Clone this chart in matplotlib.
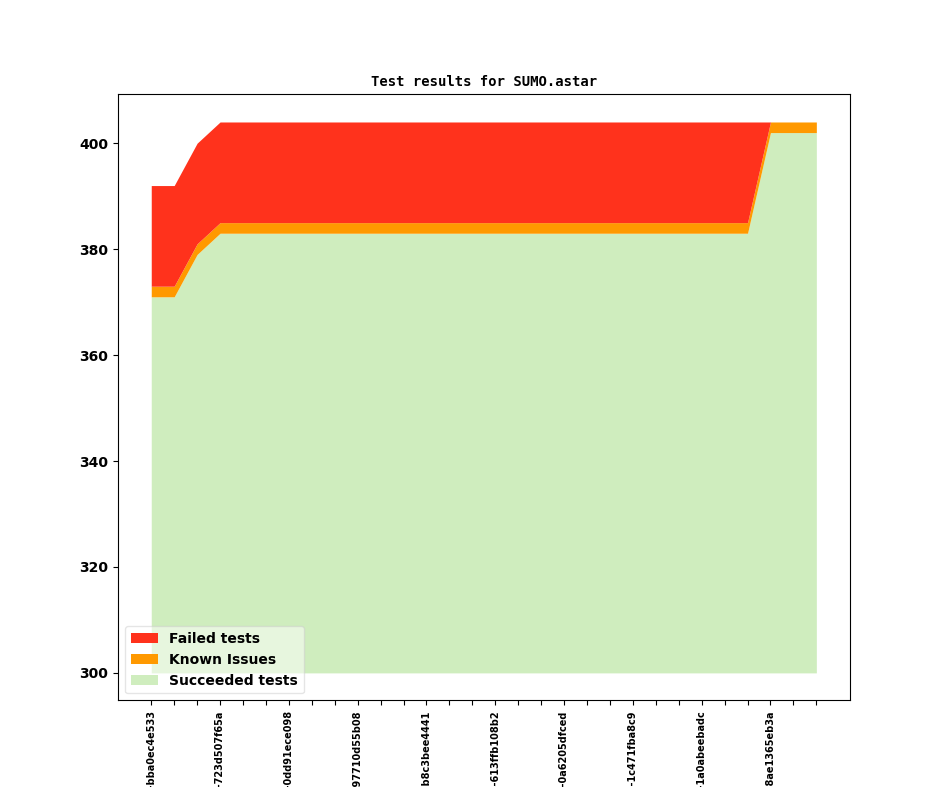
import matplotlib
matplotlib.use("Agg")
import matplotlib.pyplot as plt

# commit ids (only every third one gets a label)
labels = ["v1_3_1+0412-bba0ec4e533", "", "",
          "v1_3_1+0418-723d507f65a", "", "",
          "v1_3_1+0425-0dd91ece098", "", "",
          "v1_3_1+0431-97710d55b08", "", "",
          "v1_3_1+0437-b8c3bee4441", "", "",
          "v1_3_1+0444-613ffb108b2", "", "",
          "v1_3_1+0450-0a6205dfced", "", "",
          "v1_3_1+0457-1c471fba8c9", "", "",
          "v1_3_1+0463-1a0abeebadc", "", "",
          "v1_3_1+0470-8ae1365eb3a", "", ""]

succeeded = [371, 371, 379] + [383] * 24 + [402, 402, 402]
known = [2, 2, 2] + [2] * 24 + [2, 2, 2]
failed = [19, 19, 19] + [19] * 24 + [0, 0, 0]

base = 300

x = list(range(len(succeeded)))
known_top = [s + k for s, k in zip(succeeded, known)]
failed_top = [kt + f for kt, f in zip(known_top, failed)]

fig = plt.figure(figsize=(9.44, 7.87), dpi=100)
ax = fig.add_subplot(111)

ax.fill_between(x, base, succeeded, color="#cfedbe", label="Succeeded tests", lw=0)
ax.fill_between(x, succeeded, known_top, color="#ff9900", label="Known Issues", lw=0)
ax.fill_between(x, known_top, failed_top, color="#ff321c", label="Failed tests", lw=0)

ax.set_title("Test results for SUMO.astar", family="DejaVu Sans Mono",
             fontweight="bold", fontsize=10)
ax.set_xticks(x)
ax.set_xticklabels(labels, rotation=90, fontsize=7, fontweight="bold")
for t in ax.get_yticklabels():
    t.set_fontweight("bold")
ax.tick_params(axis="y", labelsize=10)

h, l = ax.get_legend_handles_labels()
ax.legend(h[::-1], l[::-1], loc="lower left", framealpha=0.5,
          prop={"weight": "bold", "size": 10})

fig.savefig("out.png", dpi=100)
